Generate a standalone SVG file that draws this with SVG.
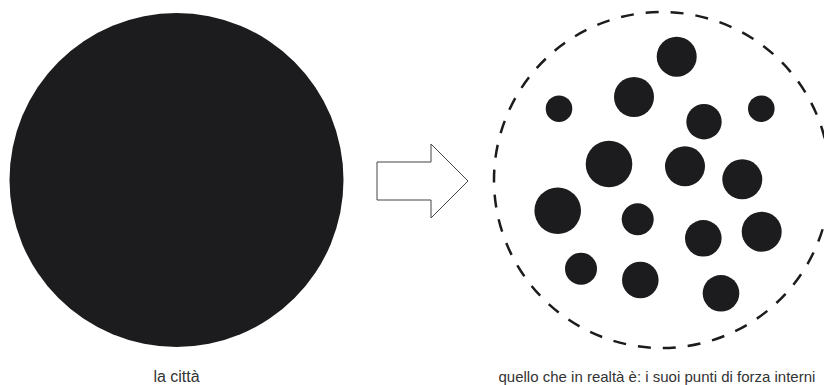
<svg xmlns="http://www.w3.org/2000/svg" width="824" height="385" viewBox="0 0 824 385">
<style>
.dot{fill:#1c1b1d}
.lbl{font-family:"Liberation Sans",Arial,sans-serif;font-size:15px;fill:#333}
</style>
<rect width="824" height="385" fill="#fff"/>
<g id="citta">
<circle cx="176.5" cy="180" r="167" class="dot"/>
<text x="176.5" y="382" text-anchor="middle" class="lbl" style="font-size:16px">la città</text>
</g>
<g id="connectors">
<polygon points="377,162 431,162 431,144 468,181 431,218 431,200 377,200" fill="#fff" stroke="#444" stroke-width="1"/>
</g>
<g id="realta">
<circle cx="662" cy="180" r="168" fill="none" stroke="#1c1b1d" stroke-width="2.5" stroke-dasharray="13 12"/>
<circle cx="676.7" cy="56.7" r="20" class="dot"/>
<circle cx="634" cy="97" r="20" class="dot"/>
<circle cx="559" cy="108.7" r="13.3" class="dot"/>
<circle cx="704" cy="121.7" r="17.7" class="dot"/>
<circle cx="761.3" cy="108.7" r="13.3" class="dot"/>
<circle cx="609" cy="164" r="23.3" class="dot"/>
<circle cx="685" cy="166.3" r="20" class="dot"/>
<circle cx="742.3" cy="179.3" r="20" class="dot"/>
<circle cx="557.7" cy="210.7" r="23.3" class="dot"/>
<circle cx="637.7" cy="219.3" r="16" class="dot"/>
<circle cx="703.3" cy="238.3" r="18.3" class="dot"/>
<circle cx="761.7" cy="231.7" r="20" class="dot"/>
<circle cx="581" cy="268.7" r="16" class="dot"/>
<circle cx="640.3" cy="280" r="18.3" class="dot"/>
<circle cx="721" cy="293.3" r="18.3" class="dot"/>
<text x="498.5" y="382" class="lbl">quello che in realtà è: i suoi punti di forza interni</text>
</g>
</svg>
